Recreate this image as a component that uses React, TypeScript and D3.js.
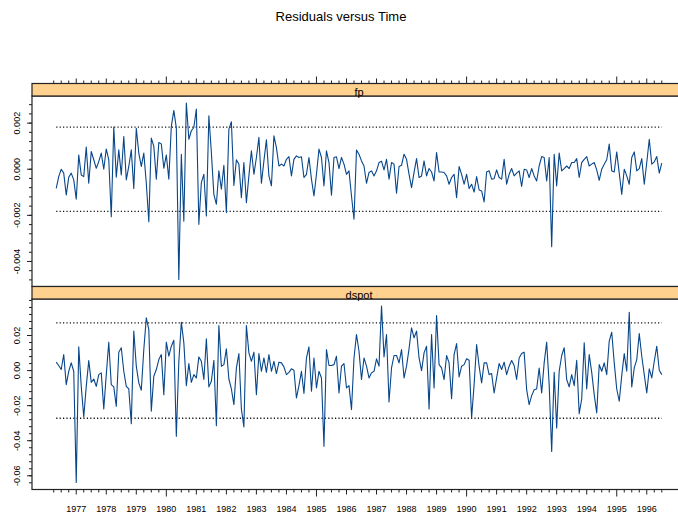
import React from 'react';
import * as d3 from 'd3';

// monthly residuals, first observation May 1976
const startYear = 1976 + 4 / 12;

// fp residuals, in units of 1e-3
const fpResid = [
  -0.83, -0.32, 0.00, -0.17, -1.12, -0.35, -0.17, -0.46, -1.30, 0.62,
  -0.25, -0.32, 0.96, -0.61, 0.77, 0.41, 0.04, 0.33, 0.70, 0.00,
  0.88, 0.41, -2.06, 1.83, -0.35, 0.84, -0.25, 1.42, -0.46, 0.12,
  0.84, -0.83, 1.78, 0.70, 0.12, 0.70, -0.61, -2.28, 1.35, 0.99,
  -0.43, 1.16, 1.10, 0.04, 0.62, -0.43, 1.86, 2.55, 1.78, -4.78,
  0.65, -2.25, 2.87, 1.30, 1.67, 1.81, 2.61, -2.39, -0.58, -0.22,
  -2.03, 2.32, 0.72, -1.09, -1.52, -0.07, -0.87, 0.17, -1.88, 1.74,
  2.06, -0.70, 0.41, 0.22, -1.23, 0.29, -1.45, -0.29, 0.80, -0.22,
  0.51, 1.38, -0.61, 0.36, 1.28, -0.29, -0.72, 1.45, 0.94, 0.14,
  0.22, 0.14, 0.43, 0.55, -0.29, 0.43, 0.58, 0.51, 0.54, -0.36,
  -0.22, 0.51, -0.43, -1.16, -0.22, 0.87, 0.51, -0.72, 0.80, 0.29,
  -1.13, 0.51, 0.54, 0.03, 0.51, 0.22, -0.22, -0.07, -1.16, -2.17,
  0.83, 0.65, 0.36, 0.14, -0.61, -0.14, -0.07, -0.29, -0.07, 0.29,
  0.35, -0.03, 0.43, -0.43, 0.29, 0.22, -1.04, 0.12, 0.17, 0.65,
  0.43, -0.22, -0.80, -0.14, 0.46, -0.36, -0.29, 0.36, -0.29, 0.03,
  -0.12, -0.51, 0.72, -0.12, -0.12, -0.14, -0.29, -0.65, -0.36, -0.22,
  -1.23, 0.12, -0.22, -0.65, -0.22, -0.84, -0.65, -0.99, -0.32, -0.90,
  -0.94, -1.42, -0.12, -0.07, -0.43, -0.41, -0.03, -0.36, -0.43, 0.43,
  -0.65, -0.22, 0.03, -0.29, -0.17, -0.07, -0.75, 0.00, -0.03, -0.36,
  0.03, -0.29, -0.51, 0.14, 0.55, 0.51, -0.51, 0.51, -3.36, 0.65,
  -0.72, 0.70, -0.07, 0.03, 0.14, 0.03, 0.29, 0.29, 0.46, -0.36,
  0.29, 0.43, 0.55, 0.14, 0.22, 0.29, -0.03, -0.48, 0.00, 0.22,
  0.41, 1.09, -0.07, -0.12, 0.75, -0.17, -1.09, 0.00, -0.29, -0.65,
  0.51, 0.75, -0.07, 0.03, 0.46, -0.65, 0.29, 1.30, 0.22, 0.32,
  0.55, -0.17, 0.26,
];

// dspot residuals, in units of 1e-2
const dspotResid = [
  0.48, 0.29, 0.06, 0.91, -0.80, -0.04, 0.44, -0.04, -6.38, 1.35,
  -0.90, -2.65, -0.90, 0.57, -0.67, -0.48, -0.90, -0.23, -0.13, -2.19,
  -0.23, 1.62, -0.80, -0.93, -2.04, 1.05, 1.30, -0.04, -0.90, -1.05,
  -3.03, 2.25, 0.25, -0.70, -1.12, 1.20, 3.01, 2.34, -2.32, -0.32,
  0.06, 0.63, 0.91, -1.37, 1.62, 0.82, 1.39, 1.73, -3.75, 0.53,
  2.76, 1.58, -0.86, 0.40, -0.67, -0.23, -0.42, 0.78, 0.53, -0.51,
  1.81, -0.93, -0.61, 0.59, -3.14, 2.57, 0.25, 0.34, 1.24, -0.48,
  -1.05, -1.94, 0.15, 0.97, -2.19, -3.22, 2.57, 1.01, 0.53, 1.05,
  -1.37, 0.97, -0.04, 0.72, -0.10, 0.91, -0.04, 0.53, -0.17, 0.48,
  0.44, 0.21, -0.23, -0.10, 0.10, 0.02, -1.56, -0.86, -0.04, -1.31,
  0.72, 1.35, -1.18, 0.72, -0.99, -0.04, -0.42, -4.32, 1.20, 0.29,
  0.29, 0.34, 0.82, -1.28, 0.25, 0.40, -0.99, -0.86, -2.23, 0.72,
  2.06, 1.10, -0.51, 0.72, 0.25, -0.42, -0.13, -0.04, 0.67, 0.25,
  3.68, 0.78, 2.06, -1.79, 0.15, 0.86, 0.86, 0.44, 1.20, -0.42,
  0.25, 1.24, 2.44, 1.87, 2.25, 0.72, 0.00, 1.01, 1.39, -2.19,
  2.06, -0.99, 3.14, 0.34, 0.15, -0.51, 0.86, 0.44, -1.60, 0.91,
  1.54, -0.36, 0.25, 0.34, 0.67, 0.59, -2.70, -0.80, 1.49, 0.25,
  -0.70, 0.44, 0.44, -0.23, -0.17, -1.28, -0.42, 0.40, 0.06, 0.48,
  -0.23, 0.25, 0.57, 0.29, -0.51, 0.72, 0.97, 1.05, -1.09, -1.94,
  -1.43, -1.09, -1.05, 0.15, -1.28, 0.44, 1.62, -0.80, -4.61, -0.10,
  -3.28, -0.04, 0.86, 1.30, -0.51, -0.93, -0.23, -0.86, 0.59, -2.46,
  -1.62, 1.58, -1.05, 0.91, -0.10, -1.37, -2.42, 0.34, -0.04, 0.44,
  -0.23, 1.68, 2.19, 0.44, -1.05, -1.75, -0.29, 0.97, -0.04, 3.33,
  -0.93, 0.15, 0.63, 2.11, 0.82, -0.23, -1.28, 0.10, -0.42, 0.53,
  1.39, 0.02, -0.23,
];

// +/- reference bands (dotted lines)
const fpBand = 0.00183;
const dspotBand = 0.0272;

const fpTicks = [-0.004, -0.002, 0, 0.002];
const dspotTicks = [-0.06, -0.04, -0.02, 0, 0.02];
const yearLabels = d3.range(1977, 1997);
const quarterTicks = d3.range(0, 82).map(k => 1976.25 + k * 0.25);

const W = 678;
const H = 514;
const left = 32;
const right = 686;
const stripH = 12.5;
const plotH = 190.5;
const top0 = 83.5;
const font = 'Liberation Sans, Arial, Helvetica, sans-serif';
const lineColor = '#08468a';

// S-style 4% padding of the data range
const padded = (lo: number, hi: number): [number, number] => {
  const p = (hi - lo) * 0.04;
  return [lo - p, hi + p];
};

const panels = [
  { name: 'fp', values: fpResid.map(v => v / 1000), band: fpBand, ticks: fpTicks, minor: 0.0004, digits: 3 },
  { name: 'dspot', values: dspotResid.map(v => v / 100), band: dspotBand, ticks: dspotTicks, minor: 0.004, digits: 2 },
];

export default function App() {
  const times = fpResid.map((_, i) => startYear + i / 12);
  const x = d3.scaleLinear()
    .domain(padded(times[0], times[times.length - 1]))
    .range([left, right]);

  const axisBottom = top0 + 2 * (stripH + plotH);

  const tickLen = (t: number) => {
    const r = Math.round(t * 4) / 4;
    if (Math.abs(r % 5) < 1e-6) return 7;
    if (Math.abs(r % 1) < 1e-6) return 5;
    return 3;
  };

  return (
    <svg width={W} height={H} style={{ position: 'absolute', left: 0, top: 0, background: '#fff' }} fontFamily={font}>
      <text x={341} y={21} textAnchor="middle" fontSize={13} fill="#000">Residuals versus Time</text>

      {/* top ticks */}
      {quarterTicks.map(t => (
        <line key={'tt' + t} x1={x(t)} x2={x(t)} y1={top0} y2={top0 - tickLen(t)} stroke="#222" strokeWidth={1} />
      ))}
      {/* bottom ticks */}
      {quarterTicks.map(t => (
        <line key={'bt' + t} x1={x(t)} x2={x(t)} y1={axisBottom} y2={axisBottom + tickLen(t)} stroke="#222" strokeWidth={1} />
      ))}
      {yearLabels.map(yr => (
        <text key={'yl' + yr} x={x(yr)} y={511.5} textAnchor="middle" fontSize={9} fill="#000">{yr}</text>
      ))}

      {panels.map((p, k) => {
        const stripTop = top0 + k * (stripH + plotH);
        const plotTop = stripTop + stripH;
        const plotBottom = plotTop + plotH;
        const ext = d3.extent(p.values) as [number, number];
        const y = d3.scaleLinear().domain(padded(ext[0], ext[1])).range([plotBottom, plotTop]);
        const line = d3.line<number>()
          .x((_, i) => x(times[i]))
          .y(v => y(v));
        const [ylo, yhi] = y.domain();
        const minors = d3.range(Math.ceil(ylo / p.minor), Math.floor(yhi / p.minor) + 1).map(j => j * p.minor);
        const x0 = x(times[0]);
        const x1 = x(times[times.length - 1]);
        return (
          <g key={p.name}>
            <rect x={left} y={plotTop} width={right - left} height={plotH} fill="#fff" stroke="#222" strokeWidth={1.2} />
            {[p.band, -p.band].map(b => (
              <line key={b} x1={x0} x2={x1} y1={y(b)} y2={y(b)} stroke="#111" strokeWidth={1.3} strokeDasharray="1.2 2.2" />
            ))}
            <path d={line(p.values) || ''} fill="none" stroke={lineColor} strokeWidth={1.1} strokeLinejoin="round" />
            {minors.map(v => (
              <line key={'m' + v} x1={left} x2={left - 3} y1={y(v)} y2={y(v)} stroke="#222" strokeWidth={1} />
            ))}
            {p.ticks.map(v => (
              <g key={'t' + v}>
                <line x1={left} x2={left - 5} y1={y(v)} y2={y(v)} stroke="#222" strokeWidth={1} />
                <text transform={`translate(20,${y(v)}) rotate(-90)`} textAnchor="middle" fontSize={9} fill="#000">
                  {v.toFixed(p.digits)}
                </text>
              </g>
            ))}
            <rect x={left} y={stripTop} width={right - left} height={stripH} fill="#ffd18f" stroke="#222" strokeWidth={1.2} />
            <text x={(left + right) / 2} y={stripTop + stripH - 0.5} textAnchor="middle" fontSize={11} fill="#000">{p.name}</text>
          </g>
        );
      })}
    </svg>
  );
}
